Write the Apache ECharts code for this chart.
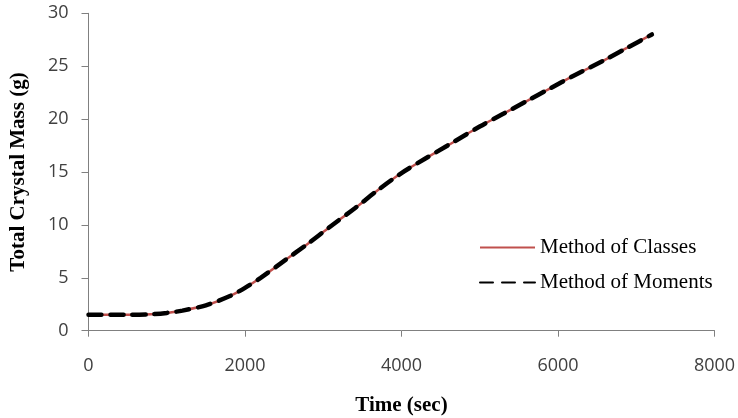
<!DOCTYPE html>
<html>
<head>
<meta charset="utf-8">
<script src="https://cdn.jsdelivr.net/npm/echarts@6/dist/echarts.min.js"></script>
<style>html,body{margin:0;padding:0;background:#fff}#c{width:738px;height:418px}</style>
</head>
<body>
<div id="c"></div>
<script>
const times = [0, 500, 800, 1000, 1200, 1500, 1800, 2000, 2200, 2500, 2800, 3100, 3400, 3700, 4000, 4300, 4600, 5000, 5300, 5600, 5900, 6200, 6600, 6900, 7200];
const classesMass = [1.5, 1.5, 1.55, 1.68, 1.9, 2.4, 3.25, 4.05, 5.0, 6.6, 8.2, 9.9, 11.55, 13.3, 14.9, 16.25, 17.55, 19.3, 20.5, 21.7, 22.9, 24.1, 25.6, 26.8, 28.0];
const momentsMass = [1.5, 1.5, 1.55, 1.68, 1.9, 2.4, 3.25, 4.05, 5.0, 6.6, 8.2, 9.9, 11.55, 13.3, 14.9, 16.25, 17.55, 19.3, 20.5, 21.7, 22.9, 24.1, 25.6, 26.8, 28.0];
const seriesNames = ['Method of Classes', 'Method of Moments'];
const xTitle = 'Time (sec)';
const yTitle = 'Total Crystal Mass (g)';

const pair = (xs, ys) => xs.map((x, i) => [x, ys[i]]);
const chart = echarts.init(document.getElementById('c'), null, {renderer: 'canvas'});
const tickFont = {fontFamily: 'Open Sans', fontSize: 18, color: '#404040'};
const titleFont = {fontFamily: 'Liberation Serif', fontSize: 21, fontWeight: 'bold', color: '#000'};
chart.setOption({
  animation: false,
  grid: {left: 88.5, right: 23.5, top: 13.3, bottom: 87.3, containLabel: false, outerBoundsMode: 'none'},
  legend: {
    orient: 'vertical', left: 474, top: 232, itemWidth: 55, itemHeight: 14, itemGap: 14,
    itemStyle: {opacity: 0},
    textStyle: {fontFamily: 'Liberation Serif', fontSize: 21, color: '#000'},
    data: seriesNames
  },
  xAxis: {
    type: 'value', min: 0, max: 8000, interval: 2000,
    name: xTitle, nameLocation: 'middle', nameGap: 64, nameTextStyle: titleFont,
    axisLine: {show: true, lineStyle: {color: '#808080', width: 1}},
    axisTick: {show: true, length: 6, lineStyle: {color: '#808080'}},
    axisLabel: Object.assign({margin: 26, formatter: v => String(v)}, tickFont),
    splitLine: {show: false}
  },
  yAxis: {
    type: 'value', min: 0, max: 30, interval: 5,
    name: yTitle, nameLocation: 'middle', nameGap: 59, nameTextStyle: titleFont,
    axisLine: {show: true, lineStyle: {color: '#808080', width: 1}},
    axisTick: {show: true, length: 7, lineStyle: {color: '#808080'}},
    axisLabel: Object.assign({margin: 20}, tickFont),
    splitLine: {show: false}
  },
  series: [
    {name: seriesNames[0], type: 'line', smooth: 0.3, symbol: 'none', showSymbol: false,
     data: pair(times, classesMass), itemStyle: {color: '#C0504D'},
     lineStyle: {color: '#C0504D', width: 2.5}},
    {name: seriesNames[1], type: 'line', smooth: 0.3, symbol: 'none', showSymbol: false,
     data: pair(times, momentsMass), itemStyle: {color: '#000'},
     lineStyle: {color: '#000', width: 4.5, type: [13, 9], cap: 'round'}}
  ]
});
</script>
</body>
</html>
